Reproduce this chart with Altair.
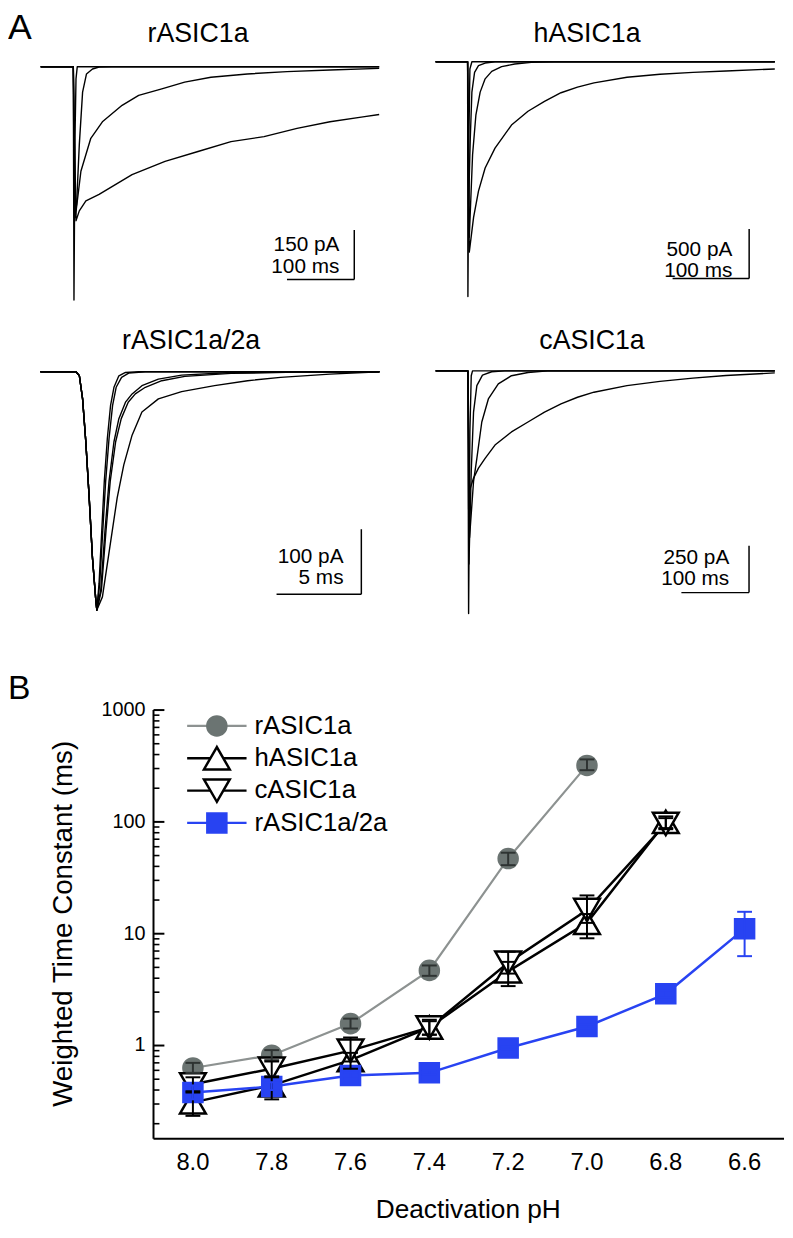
import altair as alt
import pandas as pd

FONT = "Liberation Sans"
GRAY_LINE = "#8d9291"
GRAY_FILL = "#6b7472"
GRAY_ERR = "#2e3332"
BLUE = "#2843f2"

# ---------------- Panel A traces (time in ms, current in pA) ----------------
# rASIC1a
ra_t1 = [0, 48.5, 49.5, 51, 52.5, 54.4, 503]
ra_i1 = [0, 0, -707, -217, -37, 0, 0]
ra_t2 = [0, 48.5, 50, 53.4, 57.4, 62.3, 68.1, 77, 86.8, 106, 503]
ra_i2 = [0, 0, -457, -417, -237, -77, -22, -7, -1, 0, 0]
ra_t3 = [0, 48.5, 51.5, 59.8, 74.5, 91.7, 121, 145.6, 180, 214, 253, 307, 366, 430, 503]
ra_i3 = [0, 0, -457, -317, -217, -167, -117, -87, -67, -47, -32, -22, -15, -10, -5]
ra_t4 = [0, 48.5, 52.5, 57.4, 67.2, 86.8, 135.8, 184.8, 233.8, 282.8, 331.9, 380.9, 429.9, 478.9, 503]
ra_i4 = [0, 0, -467, -437, -407, -387, -327, -287, -257, -227, -212, -187, -167, -152, -145]

# hASIC1a
ha_t1 = [0, 41.8, 42.2, 43.5, 44.8, 47.4, 443]
ha_i1 = [0, 0, -2373, -773, -73, 0, 0]
ha_t2 = [0, 41.8, 43.1, 45.3, 47.4, 50.9, 56, 64.7, 77.6, 443]
ha_i2 = [0, 0, -1440, -773, -307, -107, -40, -13, 0, 0]
ha_t3 = [0, 41.8, 44, 48.3, 52.6, 58.2, 64.7, 73.3, 86.2, 103.4, 125, 155.2, 443]
ha_i3 = [0, 0, -1773, -940, -540, -307, -173, -97, -50, -23, -7, 0, 0]
ha_t4 = [0, 41.8, 44, 49.6, 56, 64.7, 77.6, 99.1, 120.7, 142.2, 163.8, 185.3, 206.9, 250, 293.1, 336.2, 379.3, 443]
ha_i4 = [0, 0, -1923, -1573, -1307, -1073, -873, -640, -500, -400, -313, -257, -213, -157, -127, -107, -93, -73]

# rASIC1a/2a (shared rising phase + five decays)
rb_rise_t = [0, 2.10, 2.30, 2.49, 2.68, 2.88, 3.07, 3.27, 3.33]
rb_rise_i = [0, 0, -6.1, -41.6, -107.5, -193.8, -285.1, -351, -366.3]
rb_t1 = [3.46, 3.62, 3.77, 3.95, 4.14, 4.34, 4.63, 5.02, 5.80, 20]
rb_i1 = [-325.7, -244.5, -168.4, -102.5, -51.7, -23.8, -6.1, -1, 0, 0]
rb_t2 = [3.50, 3.68, 3.85, 4.05, 4.26, 4.47, 4.79, 5.21, 6.19, 20]
rb_i2 = [-325.7, -244.5, -168.4, -102.5, -51.7, -23.8, -8.6, -2, 0, 0]
rb_t3 = [3.56, 3.81, 4.05, 4.34, 4.63, 5.02, 5.41, 5.99, 6.96, 8.33, 11.25, 15.14, 20]
rb_i3 = [-335.8, -244.5, -168.4, -107.5, -72, -46.7, -34, -21.3, -11.2, -5.1, -1, 0, 0]
rb_t4 = [3.60, 3.87, 4.12, 4.44, 4.77, 5.18, 5.60, 6.19, 7.16, 8.52, 11.25, 15.14, 20]
rb_i4 = [-335.8, -244.5, -168.4, -107.5, -72, -46.7, -34, -23.8, -13.7, -7.1, -2.5, -0.5, 0]
rb_t5 = [3.66, 3.95, 4.24, 4.53, 4.92, 5.41, 5.99, 6.96, 8.33, 10.27, 12.22, 14.16, 17.08, 20]
rb_i5 = [-346, -295.2, -244.5, -193.8, -143.1, -97.4, -61.9, -41.6, -30.4, -21.3, -13.7, -8.6, -3.6, 0]

# cASIC1a
ca_t1 = [0, 47.8, 48.8, 50.7, 52.7, 54.6, 501.5]
ca_i1 = [0, 0, -1294, -326, -26, 0, 0]
ca_t2 = [0, 47.8, 49.3, 52.7, 56.1, 61, 69.3, 82.9, 102.4, 501.5]
ca_i2 = [0, 0, -1030, -537, -220, -79, -23, -5, 0, 0]
ca_t3 = [0, 47.8, 50.2, 56.1, 61, 68.3, 78, 92.7, 112.2, 136.6, 165.9, 501.5]
ca_i3 = [0, 0, -889, -590, -467, -273, -150, -70, -26, -9, 0, 0]
ca_t4 = [0, 47.8, 49.8, 56.1, 63.4, 73.2, 87.8, 112.2, 136.6, 161, 185.4, 209.8, 234.1, 282.9, 331.7, 380.5, 429.3, 501.5]
ca_i4 = [0, 0, -643, -572, -519, -467, -396, -326, -273, -220, -176, -141, -114, -79, -56, -39, -25, -11]

# scale bars: corner (time, current), duration, amplitude, labels
bar_ra = dict(t=466, i=-645, dur=100, amp=150, l1="150 pA", l2="100 ms")
bar_ha = dict(t=409.5, i=-2190, dur=100, amp=500, l1="500 pA", l2="100 ms")
bar_rb = dict(t=18.93, i=-342, dur=5, amp=100, l1="100 pA", l2="5 ms")
bar_ca = dict(t=463.4, i=-1183, dur=100, amp=250, l1="250 pA", l2="100 ms")

# ---------------- Panel B data ----------------
series = ["rASIC1a", "hASIC1a", "cASIC1a", "rASIC1a/2a"]
ph = [8.0, 7.8, 7.6, 7.4, 7.2, 7.0, 6.8, 6.6]
r1a_tau = [0.63, 0.82, 1.57, 4.7, 47, 320]
r1a_lo = [0.57, 0.74, 1.42, 4.2, 41, 290]
r1a_hi = [0.70, 0.91, 1.74, 5.2, 53, 362]
h1a_tau = [0.31, 0.44, 0.74, 1.45, 4.6, 12.5, 100]
h1a_lo = [0.235, 0.33, 0.62, 1.25, 3.4, 9.1, 88]
h1a_hi = [0.38, 0.52, 0.86, 1.65, 5.6, 15, 112]
c1a_tau = [0.45, 0.62, 0.90, 1.45, 5.5, 16.3, 96]
c1a_lo = [0.39, 0.53, 0.72, 1.25, 4.4, 12.5, 86]
c1a_hi = [0.52, 0.72, 1.18, 1.70, 6.9, 22, 108]
b2a_tau = [0.38, 0.43, 0.54, 0.57, 0.95, 1.48, 2.9, 11.1]
b2a_lo = [0.33, 0.40, 0.51, 0.55, 0.92, 1.43, 2.7, 6.3]
b2a_hi = [0.44, 0.47, 0.57, 0.60, 0.98, 1.53, 3.1, 15.7]

y_domain = [0.147, 1000]
x_domain = [6.5, 8.1]
major_ticks = [1, 10, 100, 1000]
major_labels = ["1", "10", "100", "1000"]
minor_ticks = [0.2, 0.3, 0.4, 0.5, 0.6, 0.7, 0.8, 0.9,
               2, 3, 4, 5, 6, 7, 8, 9,
               20, 30, 40, 50, 60, 70, 80, 90,
               200, 300, 400, 500, 600, 700, 800, 900]
ph_ticks = [8.0, 7.8, 7.6, 7.4, 7.2, 7.0, 6.8, 6.6]
ph_labels = ["8.0", "7.8", "7.6", "7.4", "7.2", "7.0", "6.8", "6.6"]


# ---------------- helpers ----------------
def trace_panel(title, traces, xdom, xrng, ydom, yrng, bar, dys, gap, title_xy):
    xs = alt.Scale(domain=xdom, range=xrng, nice=False, zero=False)
    ys = alt.Scale(domain=ydom, range=yrng, nice=False, zero=False)
    rows = []
    for k, (ts, cs) in enumerate(traces):
        for j, (t, c) in enumerate(zip(ts, cs)):
            rows.append({"trace": k, "ord": j, "t": t, "i": c})
    df = pd.DataFrame(rows)
    lines = alt.Chart(df).mark_line(color="black", strokeWidth=1.4, strokeJoin="round").encode(
        x=alt.X("t:Q", scale=xs, axis=None),
        y=alt.Y("i:Q", scale=ys, axis=None),
        detail="trace:N",
        order="ord:Q",
    )
    bdf = pd.DataFrame({"t": [bar["t"]], "i": [bar["i"]],
                        "t0": [bar["t"] - bar["dur"]], "i1": [bar["i"] + bar["amp"]],
                        "l1": [bar["l1"]], "l2": [bar["l2"]]})
    vbar = alt.Chart(bdf).mark_rule(color="black", strokeWidth=1.5).encode(
        x=alt.X("t:Q", scale=xs, axis=None), y=alt.Y("i:Q", scale=ys, axis=None), y2="i1:Q")
    hbar = alt.Chart(bdf).mark_rule(color="black", strokeWidth=1.5).encode(
        x=alt.X("t0:Q", scale=xs, axis=None), x2="t:Q", y=alt.Y("i:Q", scale=ys, axis=None))
    lab1 = alt.Chart(bdf).mark_text(align="right", baseline="middle", dx=-gap, dy=dys[0],
                                    fontSize=21, font=FONT, color="black").encode(
        x=alt.X("t:Q", scale=xs, axis=None), y=alt.Y("i:Q", scale=ys, axis=None), text="l1:N")
    lab2 = alt.Chart(bdf).mark_text(align="right", baseline="middle", dx=-gap, dy=dys[1],
                                    fontSize=21, font=FONT, color="black").encode(
        x=alt.X("t:Q", scale=xs, axis=None), y=alt.Y("i:Q", scale=ys, axis=None), text="l2:N")
    ttl = alt.Chart(pd.DataFrame({"lab": [title]})).mark_text(
        align="center", baseline="alphabetic", fontSize=27, font=FONT, color="black").encode(
        text="lab:N", x=alt.value(title_xy[0]), y=alt.value(title_xy[1]))
    return alt.layer(lines, vbar, hbar, lab1, lab2, ttl)


p1 = trace_panel("rASIC1a",
                 [(ra_t1, ra_i1), (ra_t2, ra_i2), (ra_t3, ra_i3), (ra_t4, ra_i4)],
                 [0, 503], [33, 375], [-720, 30], [293, 43], bar_ra, (-35, -13), 15, (192, 28))
p2 = trace_panel("hASIC1a",
                 [(ha_t1, ha_i1), (ha_t2, ha_i2), (ha_t3, ha_i3), (ha_t4, ha_i4)],
                 [0, 443], [432, 774.7], [-2400, 100], [288, 38], bar_ha, (-29, -8), 17, (585, 28))
p3 = trace_panel("rASIC1a/2a",
                 [(rb_rise_t + rb_t1, rb_rise_i + rb_i1), (rb_rise_t + rb_t2, rb_rise_i + rb_i2),
                  (rb_rise_t + rb_t3, rb_rise_i + rb_i3), (rb_rise_t + rb_t4, rb_rise_i + rb_i4),
                  (rb_rise_t + rb_t5, rb_rise_i + rb_i5)],
                 [0, 20], [32.7, 375.3], [-380, 15], [611, 351.4], bar_rb, (-38, -16), 18, (185, 338.7))
p4 = trace_panel("cASIC1a",
                 [(ca_t1, ca_i1), (ca_t2, ca_i2), (ca_t3, ca_i3), (ca_t4, ca_i4)],
                 [0, 501.5], [432, 774.7], [-1320, 50], [610.3, 350.8], bar_ca, (-35, -14), 20, (590, 338.7))

# ---------------- Panel B ----------------
xsB = alt.Scale(domain=x_domain, range=[784, 147], nice=False, zero=False)
ysB = alt.Scale(type="log", domain=y_domain, range=[1136, 703], nice=False)

styles = {
    "rASIC1a": dict(tau=r1a_tau, lo=r1a_lo, hi=r1a_hi, line=GRAY_LINE, lw=2.2, shape="circle",
                    size=370, fill=GRAY_FILL, stroke=GRAY_FILL, err=GRAY_ERR),
    "hASIC1a": dict(tau=h1a_tau, lo=h1a_lo, hi=h1a_hi, line="black", lw=2.5, shape="triangle-up",
                    size=680, fill="white", stroke="black", err="black"),
    "cASIC1a": dict(tau=c1a_tau, lo=c1a_lo, hi=c1a_hi, line="black", lw=2.5, shape="triangle-down",
                    size=680, fill="white", stroke="black", err="black"),
    "rASIC1a/2a": dict(tau=b2a_tau, lo=b2a_lo, hi=b2a_hi, line=BLUE, lw=2.5, shape="square",
                       size=370, fill=BLUE, stroke=BLUE, err=BLUE),
}


def XB(field):
    return alt.X(field, type="quantitative", scale=xsB, axis=None)


def YB(field):
    return alt.Y(field, type="quantitative", scale=ysB, axis=None)


line_layers, point_layers, err_layers = [], [], []
for name in series:
    s = styles[name]
    n = len(s["tau"])
    df = pd.DataFrame({"pH": ph[:n], "v": s["tau"], "lo": s["lo"], "hi": s["hi"]})
    line_layers.append(alt.Chart(df).mark_line(color=s["line"], strokeWidth=s["lw"]).encode(
        x=XB("pH"), y=YB("v")))
    point_layers.append(alt.Chart(df).mark_point(shape=s["shape"], size=s["size"], fill=s["fill"],
                                                 stroke=s["stroke"], strokeWidth=2.5, opacity=1,
                                                 filled=False, fillOpacity=1).encode(
        x=XB("pH"), y=YB("v")))
    err_layers.append(alt.Chart(df).mark_rule(color=s["err"], strokeWidth=2).encode(
        x=XB("pH"), y=YB("lo"), y2="hi:Q"))
    err_layers.append(alt.Chart(df).transform_fold(["lo", "hi"], as_=["which", "ev"]).mark_tick(
        orient="horizontal", size=15, thickness=2, color=s["err"], opacity=1).encode(
        x=XB("pH"), y=YB("ev")))

# axes drawn from the scale: domain lines, inward ticks, labels, titles
ydom_df = pd.DataFrame({"lo": [y_domain[0]], "hi": [y_domain[1]]})
xdom_df = pd.DataFrame({"lo": [x_domain[0]], "hi": [x_domain[1]]})
y_line = alt.Chart(ydom_df).mark_rule(color="black", strokeWidth=2).encode(
    y=YB("lo"), y2="hi:Q", x=alt.value(147))
x_line = alt.Chart(xdom_df).mark_rule(color="black", strokeWidth=2).encode(
    x=XB("lo"), x2="hi:Q", y=alt.value(1136))
major_df = pd.DataFrame({"v": major_ticks, "lab": major_labels})
minor_df = pd.DataFrame({"v": minor_ticks})
tick_major = alt.Chart(major_df).mark_rule(color="black", strokeWidth=2).encode(
    y=YB("v"), x=alt.value(147), x2=alt.value(158))
tick_minor = alt.Chart(minor_df).mark_rule(color="black", strokeWidth=1.6).encode(
    y=YB("v"), x=alt.value(147), x2=alt.value(153))
y_labels = alt.Chart(major_df).mark_text(align="right", baseline="middle", fontSize=20,
                                         font=FONT, color="black").encode(
    y=YB("v"), x=alt.value(139), text="lab:N")
phlab_df = pd.DataFrame({"pH": ph_ticks, "lab": ph_labels})
x_labels = alt.Chart(phlab_df).mark_text(align="center", baseline="alphabetic", fontSize=24,
                                         font=FONT, color="black").encode(
    x=XB("pH"), y=alt.value(1168), text="lab:N")
y_title = alt.Chart(pd.DataFrame({"lab": ["Weighted Time Constant (ms)"]})).mark_text(
    align="center", baseline="middle", angle=270, fontSize=28, font=FONT, color="black").encode(
    text="lab:N", x=alt.value(57), y=alt.value(919))
x_title = alt.Chart(pd.DataFrame({"lab": ["Deactivation pH"]})).mark_text(
    align="center", baseline="alphabetic", fontSize=26.5, font=FONT, color="black").encode(
    text="lab:N", x=alt.value(465), y=alt.value(1216))

pB = alt.layer(*line_layers, y_line, x_line, tick_major, tick_minor, y_labels, x_labels,
               y_title, x_title, *point_layers, *err_layers)

# legend
leg_df = pd.DataFrame({"series": series})
yL = alt.Y("series:N", scale=alt.Scale(type="point", domain=series, range=[719, 817], padding=0), axis=None)
leg_lines = alt.Chart(leg_df).mark_rule(strokeWidth=2.4).encode(
    y=yL, x=alt.value(181), x2=alt.value(241),
    color=alt.Color("series:N", scale=alt.Scale(domain=series,
                                                range=[GRAY_LINE, "black", "black", BLUE]), legend=None))
leg_pts = []
for name in series:
    s = styles[name]
    leg_pts.append(alt.Chart(leg_df).transform_filter(alt.datum.series == name).mark_point(
        shape=s["shape"], size=s["size"], fill=s["fill"], stroke=s["stroke"], strokeWidth=2.5,
        opacity=1, filled=False, fillOpacity=1).encode(y=yL, x=alt.value(211)))
leg_text = alt.Chart(leg_df).mark_text(align="left", baseline="middle", fontSize=26, font=FONT,
                                       color="black").encode(y=yL, x=alt.value(249), text="series:N")
legend = alt.layer(leg_lines, *leg_pts, leg_text)

# panel letters
letterA = alt.Chart(pd.DataFrame({"lab": ["A"]})).mark_text(
    align="left", baseline="alphabetic", fontSize=36, font=FONT, color="black").encode(
    text="lab:N", x=alt.value(0), y=alt.value(25))
letterB = alt.Chart(pd.DataFrame({"lab": ["B"]})).mark_text(
    align="left", baseline="alphabetic", fontSize=34, font=FONT, color="black").encode(
    text="lab:N", x=alt.value(0), y=alt.value(692))

chart = alt.layer(p1, p2, p3, p4, pB, legend, letterA, letterB).resolve_scale(
    x="independent", y="independent", color="independent"
).properties(
    width=785, height=1222, padding=0, autosize=alt.AutoSizeParams(type="none")
).configure_view(strokeWidth=0)

chart.save("out.html", embed_options={"renderer": "svg", "actions": False})
